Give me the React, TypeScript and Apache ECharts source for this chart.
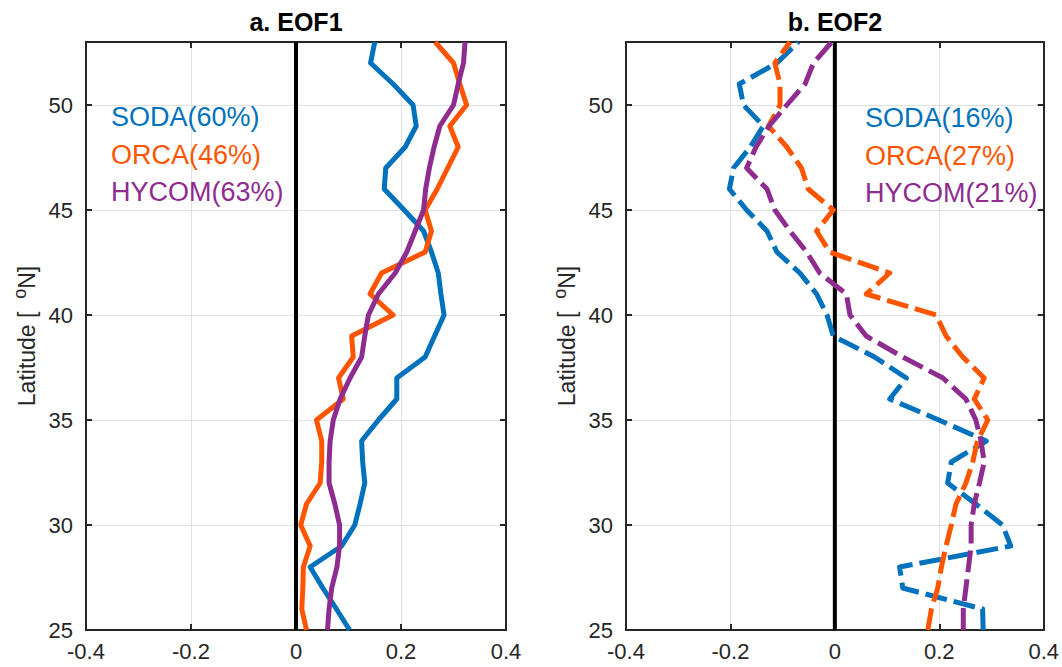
import React, { useEffect, useRef } from "react";
import * as echarts from "echarts";

const lats = [25, 26, 27, 28, 29, 30, 31, 32, 33, 34, 35, 36, 37, 38, 39, 40, 41, 42, 43, 44, 45, 46, 47, 48, 49, 50, 51, 52, 53];

// Panel a: EOF1 (values from lat 25 to lat 53)
const sodaEOF1 = [0.102, 0.077, 0.051, 0.027, 0.087, 0.112, 0.122, 0.131, 0.127, 0.125, 0.157, 0.192, 0.192, 0.246, 0.264, 0.282, 0.276, 0.271, 0.258, 0.243, 0.206, 0.168, 0.171, 0.208, 0.229, 0.223, 0.185, 0.142, 0.150];
const orcaEOF1 = [0.020, 0.011, 0.013, 0.014, 0.027, 0.009, 0.020, 0.046, 0.049, 0.049, 0.039, 0.090, 0.081, 0.109, 0.106, 0.185, 0.141, 0.163, 0.246, 0.258, 0.246, 0.269, 0.289, 0.309, 0.293, 0.325, 0.312, 0.300, 0.265];
const hycomEOF1 = [0.060, 0.063, 0.068, 0.078, 0.083, 0.083, 0.074, 0.063, 0.063, 0.065, 0.071, 0.084, 0.103, 0.125, 0.131, 0.138, 0.157, 0.189, 0.211, 0.227, 0.243, 0.247, 0.254, 0.263, 0.274, 0.300, 0.309, 0.319, 0.322];

// Panel b: EOF2
const sodaEOF2 = [0.284, 0.283, 0.130, 0.124, 0.337, 0.321, 0.270, 0.216, 0.223, 0.290, 0.199, 0.105, 0.137, 0.076, -0.003, -0.015, -0.035, -0.067, -0.111, -0.130, -0.169, -0.202, -0.194, -0.162, -0.137, -0.175, -0.183, -0.111, -0.070];
const orcaEOF2 = [0.178, 0.185, 0.197, 0.204, 0.213, 0.223, 0.232, 0.251, 0.264, 0.273, 0.293, 0.267, 0.286, 0.245, 0.213, 0.194, 0.060, 0.105, -0.010, -0.035, -0.003, -0.051, -0.064, -0.092, -0.127, -0.105, -0.105, -0.115, -0.086];
const hycomEOF2 = [0.246, 0.246, 0.251, 0.256, 0.261, 0.261, 0.267, 0.277, 0.286, 0.280, 0.270, 0.251, 0.207, 0.130, 0.060, 0.029, 0.022, -0.029, -0.054, -0.086, -0.115, -0.130, -0.169, -0.151, -0.126, -0.092, -0.057, -0.041, -0.006];

const legendA = ["SODA(60%)", "ORCA(46%)", "HYCOM(63%)"];
const legendB = ["SODA(16%)", "ORCA(27%)", "HYCOM(21%)"];
const titles = ["a. EOF1", "b. EOF2"];

const COLORS = ["#0072BD", "#FF5500", "#8E2C90"];
const FONT = "Liberation Sans, Arial, Helvetica, sans-serif";
const AXIS_COLOR = "#262626";

export default function App() {
  const ref = useRef<HTMLDivElement>(null);

  useEffect(() => {
    if (!ref.current) return;
    const chart = echarts.init(ref.current, null, { renderer: "svg" });

    const grids = [
      { left: 86, top: 42, width: 420, height: 588 },
      { left: 626, top: 42, width: 419, height: 588 },
    ];

    const xAxes: any[] = [];
    const yAxes: any[] = [];
    grids.forEach((_, gi) => {
      xAxes.push({
        type: "value", gridIndex: gi, min: -0.4, max: 0.4, interval: 0.2, position: "bottom",
        axisLine: { onZero: false, lineStyle: { color: AXIS_COLOR, width: 2 } },
        axisTick: { inside: true, length: 6, lineStyle: { color: AXIS_COLOR, width: 2 } },
        axisLabel: { color: AXIS_COLOR, fontSize: 22, fontFamily: FONT, margin: 10, formatter: (v: number) => String(Math.round(v * 10) / 10) },
        splitLine: { show: true, lineStyle: { color: "#e1e1e1", width: 1 } },
      });
      xAxes.push({
        type: "value", gridIndex: gi, min: -0.4, max: 0.4, interval: 0.2, position: "top",
        axisLine: { onZero: false, lineStyle: { color: AXIS_COLOR, width: 2 } },
        axisTick: { inside: true, length: 6, lineStyle: { color: AXIS_COLOR, width: 2 } },
        axisLabel: { show: false },
        splitLine: { show: false },
      });
      yAxes.push({
        type: "value", gridIndex: gi, min: 25, max: 53, interval: 5, position: "left",
        name: "Latitude [  {sup|o}N]",
        nameLocation: "middle", nameRotate: 90, nameGap: 44,
        nameTextStyle: {
          color: AXIS_COLOR, fontSize: 23, fontFamily: FONT,
          rich: { sup: { fontSize: 18, fontFamily: FONT, color: AXIS_COLOR, padding: [0, 0, 13, 0] } },
        },
        axisLine: { onZero: false, lineStyle: { color: AXIS_COLOR, width: 2 } },
        axisTick: { inside: true, length: 6, lineStyle: { color: AXIS_COLOR, width: 2 } },
        axisLabel: { color: AXIS_COLOR, fontSize: 22, fontFamily: FONT, margin: 13, showMaxLabel: false },
        splitLine: { show: true, lineStyle: { color: "#e1e1e1", width: 1 } },
      });
      yAxes.push({
        type: "value", gridIndex: gi, min: 25, max: 53, interval: 5, position: "right",
        axisLine: { onZero: false, lineStyle: { color: AXIS_COLOR, width: 2 } },
        axisTick: { inside: true, length: 6, lineStyle: { color: AXIS_COLOR, width: 2 } },
        axisLabel: { show: false },
        splitLine: { show: false },
      });
    });

    const pair = (vals: number[]) => vals.map((v, i) => [v, lats[i]]);
    const dashed = [22, 7];

    const mkLine = (name: string, vals: number[], color: string, gi: number, dash: boolean) => ({
      name, type: "line", xAxisIndex: gi * 2, yAxisIndex: gi * 2,
      data: pair(vals), showSymbol: false, symbol: "none",
      lineStyle: { color, width: 5, type: dash ? dashed : "solid", cap: "butt", join: "round" },
      z: 3,
    });

    const zeroLine = (gi: number) => ({
      type: "line", xAxisIndex: gi * 2, yAxisIndex: gi * 2,
      data: [[0, 25], [0, 53]], showSymbol: false, symbol: "none",
      lineStyle: { color: "#000", width: 4 }, z: 2,
    });

    const series = [
      zeroLine(0), zeroLine(1),
      mkLine("SODA1", sodaEOF1, COLORS[0], 0, false),
      mkLine("ORCA1", orcaEOF1, COLORS[1], 0, false),
      mkLine("HYCOM1", hycomEOF1, COLORS[2], 0, false),
      mkLine("SODA2", sodaEOF2, COLORS[0], 1, true),
      mkLine("ORCA2", orcaEOF2, COLORS[1], 1, true),
      mkLine("HYCOM2", hycomEOF2, COLORS[2], 1, true),
    ];

    const graphics: any[] = [];
    titles.forEach((t, i) => {
      graphics.push({
        type: "text", x: i === 0 ? 296 : 835, y: 22,
        style: { text: t, font: `bold 25px ${FONT}`, fill: "#000", textAlign: "center", textVerticalAlign: "middle" },
      });
    });
    const legendY = [117, 155, 192];
    legendA.forEach((t, i) => {
      graphics.push({
        type: "text", x: 111, y: legendY[i], z: 10,
        style: { text: t, font: `27px ${FONT}`, fill: COLORS[i], textAlign: "left", textVerticalAlign: "middle" },
      });
    });
    legendB.forEach((t, i) => {
      graphics.push({
        type: "text", x: 865, y: legendY[i] + 1, z: 10,
        style: { text: t, font: `27px ${FONT}`, fill: COLORS[i], textAlign: "left", textVerticalAlign: "middle" },
      });
    });

    chart.setOption({
      animation: false,
      backgroundColor: "#ffffff",
      grid: grids,
      xAxis: xAxes,
      yAxis: yAxes,
      series,
      graphic: graphics,
    });

    return () => chart.dispose();
  }, []);

  return (
    <div
      ref={ref}
      style={{ position: "fixed", left: 0, top: 0, width: 1062, height: 667, background: "#fff" }}
    />
  );
}
